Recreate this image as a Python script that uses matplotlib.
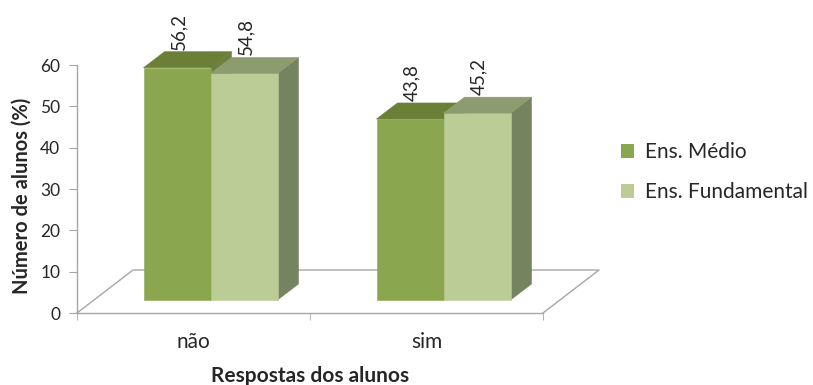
import matplotlib
matplotlib.use("Agg")
import matplotlib.pyplot as plt
from matplotlib.patches import Polygon, Patch
from matplotlib.ticker import FixedLocator, NullFormatter

# Data
categories = ["não", "sim"]
series_names = ["Ens. Médio", "Ens. Fundamental"]
ens_medio = [56.2, 43.8]
ens_fundamental = [54.8, 45.2]
value_labels_medio = ["56,2", "43,8"]
value_labels_fund = ["54,8", "45,2"]
y_ticks = [0, 10, 20, 30, 40, 50, 60]

# Colours: front, top, side for each series
medio_cols = ("#8AA64E", "#6B7F37", "#6E8040")
fund_cols = ("#BBCC97", "#8D9C6E", "#748360")
axis_col = "#A6A6A6"
text_col = "#262626"

plt.rcParams["font.family"] = ["Lato", "DejaVu Sans"]

W, H, DPI = 813, 385, 100
fig = plt.figure(figsize=(W / DPI, H / DPI), dpi=DPI)
ax_left, ax_bottom, ax_w, ax_h = 77, 72, 466, 248
ax = fig.add_axes([ax_left / W, ax_bottom / H, ax_w / W, ax_h / H])
ax.set_xlim(-0.5, len(categories) - 0.5)
ax.set_ylim(0, 60)

# pixel -> data unit conversion for the 3-D depth effect
x_range = len(categories)
kx = x_range / ax_w
ky = 60 / ax_h

def px(dx, dy):
    return dx * kx, dy * ky

floor_dx, floor_dy = px(56, 43)     # full floor depth
front_dx, front_dy = px(17, 13)     # front plane of the bars
bar_dx, bar_dy = px(21, 16)         # bar depth
bar_w = 67 * kx

# floor outline (front edge is the bottom spine)
x0, x1 = ax.get_xlim()
floor_pts = [(x0, 0), (x0 + floor_dx, floor_dy), (x1 + floor_dx, floor_dy), (x1, 0)]
ax.plot([p[0] for p in floor_pts], [p[1] for p in floor_pts],
        color=axis_col, lw=1.0, clip_on=False, zorder=1)

def box(xl, xr, h, cols, side=True):
    bx0 = xl + front_dx
    bx1 = xr + front_dx
    b0 = front_dy
    top = h + front_dy
    polys = []
    if side:
        polys.append(([(bx1, b0), (bx1 + bar_dx, b0 + bar_dy),
                       (bx1 + bar_dx, top + bar_dy), (bx1, top)], cols[2]))
    polys.append(([(bx0, b0), (bx1, b0), (bx1, top), (bx0, top)], cols[0]))
    polys.append(([(bx0, top), (bx1, top), (bx1 + bar_dx, top + bar_dy),
                   (bx0 + bar_dx, top + bar_dy)], cols[1]))
    for pts, c in polys:
        ax.add_patch(Polygon(pts, closed=True, facecolor=c, edgecolor=c,
                             lw=0.4, clip_on=False, zorder=3))
    return (bx0 + bx1) / 2, top + bar_dy

label_fs = 13.5
for i, cat in enumerate(categories):
    cx, ty = box(i - bar_w, i, ens_medio[i], medio_cols)
    ax.text(cx + 2 * kx, ty + 2 * ky, value_labels_medio[i], rotation=90,
            ha="center", va="bottom", fontsize=label_fs, color=text_col, zorder=5)
    cx, ty = box(i, i + bar_w, ens_fundamental[i], fund_cols)
    ax.text(cx + 2 * kx, ty + 2 * ky, value_labels_fund[i], rotation=90,
            ha="center", va="bottom", fontsize=label_fs, color=text_col, zorder=5)

# axes styling
for s in ["top", "right"]:
    ax.spines[s].set_visible(False)
for s in ["left", "bottom"]:
    ax.spines[s].set_color(axis_col)
    ax.spines[s].set_linewidth(1.0)
ax.set_yticks(y_ticks)
ax.tick_params(axis="y", length=6, color=axis_col, labelsize=12.5,
               labelcolor=text_col, pad=6)
ax.set_xticks(range(len(categories)))
ax.set_xticklabels(categories)
ax.xaxis.set_minor_locator(FixedLocator([x0, 0.5, x1]))
ax.xaxis.set_minor_formatter(NullFormatter())
ax.tick_params(axis="x", which="major", length=0, labelsize=15,
               labelcolor=text_col, pad=14)
ax.tick_params(axis="x", which="minor", length=5, color=axis_col)

ax.set_xlabel("Respostas dos alunos", fontsize=15, fontweight="bold",
              color=text_col, va="baseline")
ax.xaxis.set_label_coords(0.5, (313 - 382) / ax_h)
ax.set_ylabel("Número de alunos (%)", fontsize=14.5, fontweight="bold",
              color=text_col, va="center")
ax.yaxis.set_label_coords((22 - ax_left) / ax_w, (313 - 196) / ax_h)

handles = [Patch(facecolor=medio_cols[0], edgecolor="none"),
           Patch(facecolor=fund_cols[0], edgecolor="none")]
fig.legend(handles, series_names, loc="center left",
           bbox_to_anchor=(602 / W, 1 - 172 / H), frameon=False,
           fontsize=15, handlelength=0.65, handleheight=0.65,
           handletextpad=0.5, labelspacing=0.95, labelcolor=text_col,
           borderpad=0.4)

fig.savefig("out.png", dpi=DPI)
